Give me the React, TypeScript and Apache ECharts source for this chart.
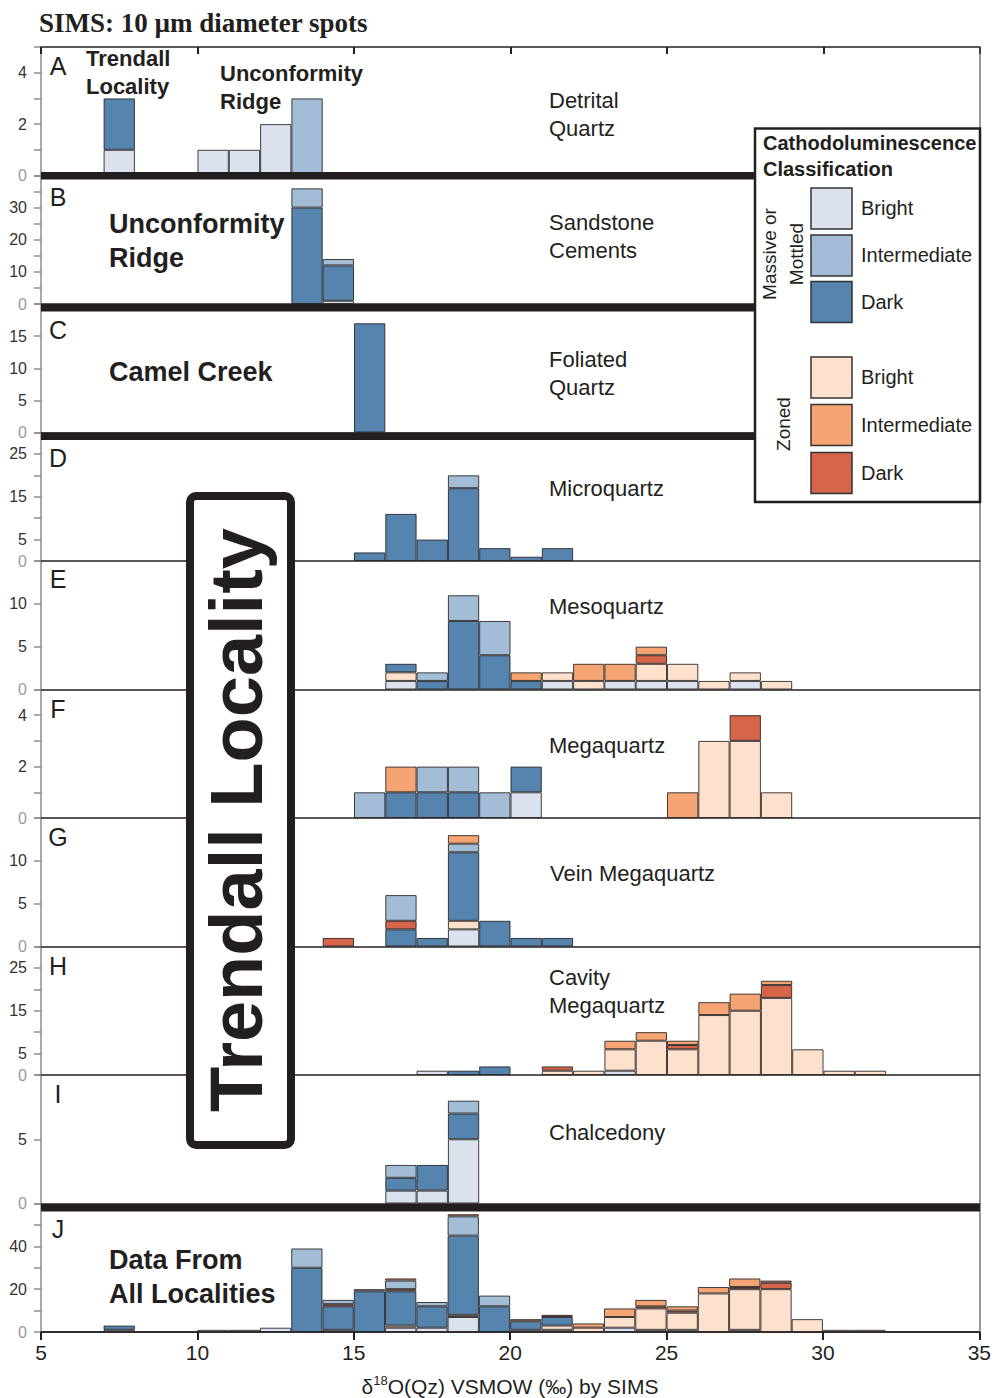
import React, { useEffect, useRef } from 'react';
import * as echarts from 'echarts';

// ---------- DATA ----------
// Histogram bins (lower edge, bin width 1 permil)
const BINS = [5, 6, 7, 8, 9, 10, 11, 12, 13, 14, 15, 16, 17, 18, 19, 20, 21, 22, 23, 24, 25, 26, 27, 28, 29, 30, 31, 32, 33, 34];
const X_TICKS = [5, 10, 15, 20, 25, 30, 35];

// Stack order (bottom -> top)
const CATEGORY_NAMES = ['Massive Bright', 'Zoned Bright', 'Massive Dark', 'Zoned Dark', 'Massive Intermediate', 'Zoned Intermediate'];

// rows: [bin, MassiveBright, ZonedBright, MassiveDark, ZonedDark, MassiveIntermediate, ZonedIntermediate]
const PANEL_A = [[7, 1, 0, 2, 0, 0, 0], [10, 1, 0, 0, 0, 0, 0], [11, 1, 0, 0, 0, 0, 0], [12, 2, 0, 0, 0, 0, 0], [13, 0, 0, 0, 0, 3, 0]];
const PANEL_B = [[13, 0, 0, 30, 0, 6, 0], [14, 1, 0, 11, 0, 2, 0]];
const PANEL_C = [[15, 0, 0, 17, 0, 0, 0]];
const PANEL_D = [[15, 0, 0, 2, 0, 0, 0], [16, 0, 0, 11, 0, 0, 0], [17, 0, 0, 5, 0, 0, 0], [18, 0, 0, 17, 0, 3, 0], [19, 0, 0, 3, 0, 0, 0], [20, 0, 0, 1, 0, 0, 0], [21, 0, 0, 3, 0, 0, 0]];
const PANEL_E = [[16, 1, 1, 1, 0, 0, 0], [17, 0, 0, 1, 0, 1, 0], [18, 0, 0, 8, 0, 3, 0], [19, 0, 0, 4, 0, 4, 0], [20, 0, 0, 1, 0, 0, 1], [21, 1, 1, 0, 0, 0, 0], [22, 0, 1, 0, 0, 0, 2], [23, 1, 0, 0, 0, 0, 2], [24, 1, 2, 0, 1, 0, 1], [25, 1, 2, 0, 0, 0, 0], [26, 0, 1, 0, 0, 0, 0], [27, 1, 1, 0, 0, 0, 0], [28, 0, 1, 0, 0, 0, 0]];
const PANEL_F = [[15, 0, 0, 0, 0, 1, 0], [16, 0, 0, 1, 0, 0, 1], [17, 0, 0, 1, 0, 1, 0], [18, 0, 0, 1, 0, 1, 0], [19, 0, 0, 0, 0, 1, 0], [20, 1, 0, 1, 0, 0, 0], [25, 0, 0, 0, 0, 0, 1], [26, 0, 3, 0, 0, 0, 0], [27, 0, 3, 0, 1, 0, 0], [28, 0, 1, 0, 0, 0, 0]];
const PANEL_G = [[14, 0, 0, 0, 1, 0, 0], [16, 0, 0, 2, 1, 3, 0], [17, 0, 0, 1, 0, 0, 0], [18, 2, 1, 8, 0, 1, 1], [19, 0, 0, 3, 0, 0, 0], [20, 0, 0, 1, 0, 0, 0], [21, 0, 0, 1, 0, 0, 0]];
const PANEL_H = [[17, 1, 0, 0, 0, 0, 0], [18, 0, 0, 1, 0, 0, 0], [19, 0, 0, 2, 0, 0, 0], [21, 0, 1, 0, 1, 0, 0], [22, 0, 1, 0, 0, 0, 0], [23, 1, 5, 0, 0, 0, 2], [24, 0, 8, 0, 0, 0, 2], [25, 0, 6, 0, 1, 0, 1], [26, 0, 14, 0, 0, 0, 3], [27, 0, 15, 0, 0, 0, 4], [28, 0, 18, 0, 3, 0, 1], [29, 0, 6, 0, 0, 0, 0], [30, 0, 1, 0, 0, 0, 0], [31, 0, 1, 0, 0, 0, 0]];
const PANEL_I = [[16, 1, 0, 1, 0, 1, 0], [17, 1, 0, 2, 0, 0, 0], [18, 5, 0, 2, 0, 1, 0]];
const PANEL_J = [[7, 1, 0, 2, 0, 0, 0], [10, 1, 0, 0, 0, 0, 0], [11, 1, 0, 0, 0, 0, 0], [12, 2, 0, 0, 0, 0, 0], [13, 0, 0, 30, 0, 9, 0], [14, 1, 0, 11, 1, 2, 0], [15, 0, 0, 19, 0, 1, 0], [16, 2, 1, 16, 1, 4, 1], [17, 2, 0, 10, 0, 2, 0], [18, 7, 1, 37, 0, 9, 1], [19, 0, 0, 12, 0, 5, 0], [20, 1, 0, 4, 0, 0, 1], [21, 1, 2, 4, 1, 0, 0], [22, 0, 2, 0, 0, 0, 2], [23, 2, 5, 0, 0, 0, 4], [24, 1, 10, 0, 1, 0, 3], [25, 1, 8, 0, 1, 0, 2], [26, 0, 18, 0, 0, 0, 3], [27, 1, 19, 0, 1, 0, 4], [28, 0, 20, 0, 3, 0, 1], [29, 0, 6, 0, 0, 0, 0], [30, 0, 1, 0, 0, 0, 0], [31, 0, 1, 0, 0, 0, 0]];

const PANELS = [PANEL_A, PANEL_B, PANEL_C, PANEL_D, PANEL_E, PANEL_F, PANEL_G, PANEL_H, PANEL_I, PANEL_J];
const PANEL_LETTERS = ['A', 'B', 'C', 'D', 'E', 'F', 'G', 'H', 'I', 'J'];
const Y_MAX = [5, 40, 20, 30, 15, 5, 15, 30, 10, 60];
const Y_STEP = [1, 5, 5, 5, 5, 1, 5, 5, 5, 10];
const Y_LABELS = [[0, 2, 4], [0, 10, 20, 30], [0, 5, 10, 15], [0, 5, 15, 25], [0, 5, 10], [0, 2, 4], [0, 5, 10], [0, 5, 15, 25], [0, 5], [0, 20, 40]];
const LEGEND_GROUPS = ['Massive or\nMottled', 'Zoned'];
const LEGEND_LABELS = ['Bright', 'Intermediate', 'Dark', 'Bright', 'Intermediate', 'Dark'];
const LEGEND_ORDER = [0, 4, 2, 1, 5, 3]; // category index for each legend row

// ---------- STYLE ----------
const CATEGORY_COLORS = ['#dbe2ed', '#fde1cc', '#5585af', '#d6654a', '#a4bdd7', '#f4a573'];
const FONT = '"Liberation Sans", Arial, Helvetica, sans-serif';
const INK = '#231f20';
const TOP0 = 47;
const ROW_H = 128.5;
const LEFT = 41;
const RIGHT_X = 980;

function text(x: number, y: number, t: string, size: number, weight = 'normal', extra: any = {}) {
  const { align, lineHeight, ...rest } = extra;
  return {
    type: 'text',
    x,
    y,
    z: 30,
    ...rest,
    style: {
      text: t,
      font: `${weight} ${size}px ${FONT}`,
      fill: INK,
      align: align || 'left',
      textAlign: align || 'left',
      verticalAlign: 'middle',
      textVerticalAlign: 'middle',
      lineHeight: lineHeight || size * 1.2,
    },
  };
}

function buildOption() {
  const grids = PANELS.map((_, i) => ({ left: LEFT, width: RIGHT_X - LEFT, top: TOP0 + i * ROW_H, height: ROW_H }));

  const xAxes: any[] = PANELS.map((_, i) => ({
    type: 'category',
    gridIndex: i,
    data: BINS.map(String),
    boundaryGap: true,
    axisLine: { show: true, onZero: false, lineStyle: { color: INK, width: 1.5 } },
    axisTick: { show: false },
    axisLabel: { show: false },
    splitLine: { show: false },
  }));
  xAxes.push({
    type: 'value',
    gridIndex: 9,
    position: 'bottom',
    min: X_TICKS[0],
    max: X_TICKS[X_TICKS.length - 1],
    interval: X_TICKS[1] - X_TICKS[0],
    axisLine: { show: true, onZero: false, lineStyle: { color: INK, width: 1.5 } },
    axisTick: { show: true, length: 8, lineStyle: { color: INK, width: 2 } },
    axisLabel: { show: true, fontSize: 21, color: INK, fontFamily: FONT, margin: 10 },
    splitLine: { show: false },
  });
  xAxes.push({
    type: 'value',
    gridIndex: 0,
    position: 'top',
    min: X_TICKS[0],
    max: X_TICKS[X_TICKS.length - 1],
    interval: X_TICKS[1] - X_TICKS[0],
    axisLine: { show: true, onZero: false, lineStyle: { color: INK, width: 1.5 } },
    axisTick: { show: true, inside: true, length: 7, lineStyle: { color: INK, width: 2 } },
    axisLabel: { show: false },
    splitLine: { show: false },
  });

  const yAxes = PANELS.map((_, i) => ({
    type: 'value',
    gridIndex: i,
    min: 0,
    max: Y_MAX[i],
    interval: Y_STEP[i],
    axisLine: { show: true, onZero: false, lineStyle: { color: '#8c8c8c', width: 1.5 } },
    axisTick: { show: true, length: 7, lineStyle: { color: '#8c8c8c', width: 1.5 } },
    axisLabel: {
      margin: 14,
      showMinLabel: true,
      showMaxLabel: true,
      formatter: (v: number) => (Y_LABELS[i].includes(v) ? (v === 0 ? '{z|0}' : `{n|${v}}`) : ''),
      rich: {
        z: { color: '#9a9a9a', fontSize: 16, fontFamily: FONT },
        n: { color: '#333333', fontSize: 16, fontFamily: FONT },
      },
    },
    splitLine: { show: false },
  }));

  const series: any[] = [];
  PANELS.forEach((rows, i) => {
    CATEGORY_NAMES.forEach((name, c) => {
      series.push({
        type: 'bar',
        name,
        xAxisIndex: i,
        yAxisIndex: i,
        stack: 'p' + i,
        barWidth: '100%',
        barCategoryGap: '0%',
        silent: true,
        emphasis: { disabled: true },
        itemStyle: { color: CATEGORY_COLORS[c], borderColor: 'rgba(35,31,32,0.85)', borderWidth: 1 },
        data: BINS.map((b) => {
          const r = rows.find((row) => row[0] === b);
          return r && r[c + 1] ? r[c + 1] : null;
        }),
      });
    });
  });

  const g: any[] = [];
  g.push({
    type: 'text', x: 39, y: 23, z: 30,
    style: { text: 'SIMS: 10 µm diameter spots', font: `bold 27px "Liberation Serif", "Times New Roman", serif`, fill: INK, align: 'left', textAlign: 'left', verticalAlign: 'middle', textVerticalAlign: 'middle' },
  });
  const thick = [[172, 714], [304, 714], [432.5, 714], [1204, RIGHT_X - LEFT]];
  thick.forEach(([y, w]) => g.push({ type: 'rect', z: 20, shape: { x: LEFT, y, width: w, height: 7.5 }, style: { fill: INK } }));
  g.push({ type: 'line', z: 5, shape: { x1: RIGHT_X, y1: TOP0, x2: RIGHT_X, y2: TOP0 + 10 * ROW_H }, style: { stroke: '#555', lineWidth: 1.2 } });

  const letterY = [66, 197, 330, 458, 579, 709, 837, 966, 1094, 1229];
  PANEL_LETTERS.forEach((l, i) => g.push(text(58, letterY[i], l, 25, 'normal', { align: 'center' })));

  g.push(text(86, 72, 'Trendall\nLocality', 22, 'bold', { lineHeight: 28 }));
  g.push(text(220, 87, 'Unconformity\nRidge', 22, 'bold', { lineHeight: 28 }));
  g.push(text(549, 114, 'Detrital\nQuartz', 22, 'normal', { lineHeight: 28 }));
  g.push(text(109, 241, 'Unconformity\nRidge', 27, 'bold', { lineHeight: 34 }));
  g.push(text(549, 236, 'Sandstone\nCements', 22, 'normal', { lineHeight: 28 }));
  g.push(text(109, 372, 'Camel Creek', 27, 'bold'));
  g.push(text(549, 373, 'Foliated\nQuartz', 22, 'normal', { lineHeight: 28 }));
  g.push(text(549, 488, 'Microquartz', 22));
  g.push(text(549, 606, 'Mesoquartz', 22));
  g.push(text(549, 745, 'Megaquartz', 22));
  g.push(text(550, 873, 'Vein Megaquartz', 22));
  g.push(text(549, 991, 'Cavity\nMegaquartz', 22, 'normal', { lineHeight: 28 }));
  g.push(text(549, 1132, 'Chalcedony', 22));
  g.push(text(109, 1277, 'Data From\nAll Localities', 27, 'bold', { lineHeight: 34 }));

  g.push({ type: 'rect', z: 25, shape: { x: 190, y: 496, width: 101, height: 649, r: 6 }, style: { fill: '#fff', stroke: INK, lineWidth: 8 } });
  g.push(text(236, 820, 'Trendall Locality', 74, 'bold', { align: 'center', rotation: Math.PI / 2 }));

  g.push({ type: 'rect', z: 25, shape: { x: 755, y: 128.5, width: 225, height: 373.5 }, style: { fill: '#fff', stroke: INK, lineWidth: 2.5 } });
  g.push(text(763, 156, 'Cathodoluminescence\nClassification', 20, 'bold', { lineHeight: 26 }));
  const swY = [188, 235, 281.5, 357, 404.5, 452.5];
  LEGEND_ORDER.forEach((ci, k) => {
    g.push({ type: 'rect', z: 30, shape: { x: 811, y: swY[k], width: 41, height: 41 }, style: { fill: CATEGORY_COLORS[ci], stroke: '#333', lineWidth: 1.5 } });
    g.push(text(861, swY[k] + 20, LEGEND_LABELS[k], 20));
  });
  g.push(text(783, 254, LEGEND_GROUPS[0], 19, 'normal', { align: 'center', rotation: Math.PI / 2, lineHeight: 27 }));
  g.push(text(783, 424, LEGEND_GROUPS[1], 19, 'normal', { align: 'center', rotation: Math.PI / 2 }));

  g.push({
    type: 'text', x: 510, y: 1386, z: 30,
    style: {
      text: '{a|δ}{s|18}{a|O(Qz) VSMOW (‰) by SIMS}',
      align: 'center', textAlign: 'center', verticalAlign: 'middle', textVerticalAlign: 'middle',
      rich: {
        a: { fontSize: 21, fontFamily: FONT, fill: INK, color: INK },
        s: { fontSize: 13, fontFamily: FONT, fill: INK, color: INK, padding: [0, 0, 12, 0] },
      },
    },
  });

  return {
    animation: false,
    backgroundColor: '#ffffff',
    grid: grids,
    xAxis: xAxes,
    yAxis: yAxes,
    series,
    graphic: { elements: g },
  };
}

export default function App() {
  const ref = useRef<HTMLDivElement>(null);
  useEffect(() => {
    if (!ref.current) return;
    const chart = echarts.init(ref.current, null, { renderer: 'svg' });
    chart.setOption(buildOption() as any);
    return () => chart.dispose();
  }, []);
  return <div ref={ref} style={{ position: 'absolute', left: 0, top: 0, width: 994, height: 1398 }} />;
}
